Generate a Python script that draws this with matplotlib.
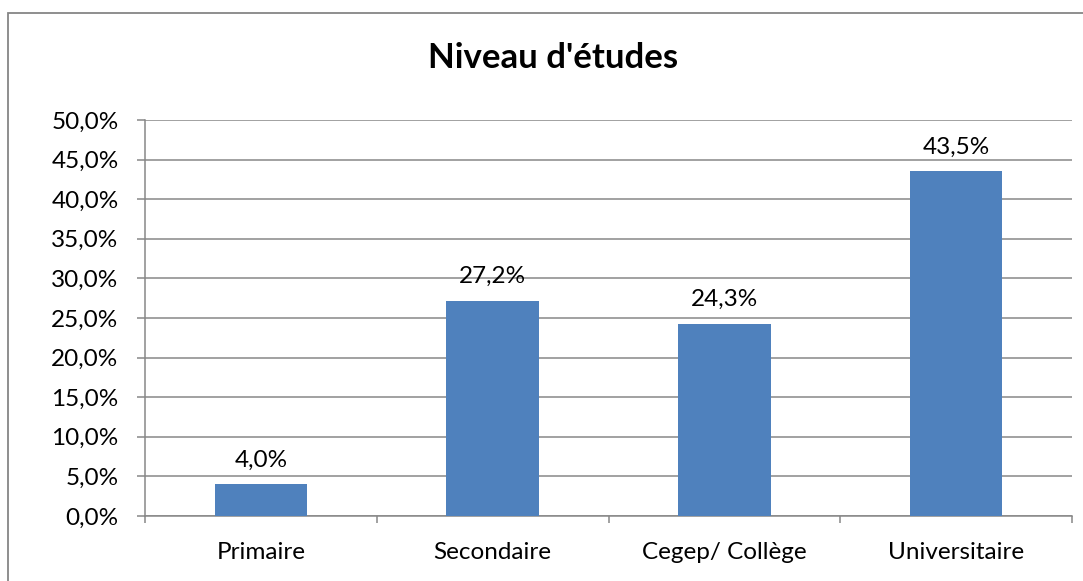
import matplotlib
matplotlib.use("Agg")
import matplotlib.pyplot as plt
from matplotlib.patches import Rectangle
import numpy as np

categories = ["Primaire", "Secondaire", "Cegep/ Collège", "Universitaire"]
values = [4.0, 27.2, 24.3, 43.5]
title = "Niveau d'études"

W, H = 1083, 581
fig = plt.figure(figsize=(W / 100, H / 100), dpi=100)
plt.rcParams['font.family'] = ['Lato', 'DejaVu Sans']

# outer chart border
fig.patches.append(Rectangle((8 / W, -0.05), 1.2, 1 - 13 / H + 0.05, transform=fig.transFigure,
                             fill=False, edgecolor='#868686', linewidth=1.3))

L, R, T, B = 145, 1072, 120, 516
ax = fig.add_axes([L / W, 1 - B / H, (R - L) / W, (B - T) / H])

x = np.arange(len(categories))
ax.bar(x, values, width=0.4, color='#4F81BD', zorder=3)
ax.set_xlim(-0.5, len(categories) - 0.5)
ax.set_ylim(0, 50)

yt = np.arange(0, 50.1, 5)
ax.set_yticks(yt)
ax.set_yticklabels([f"{v:.1f}%".replace('.', ',') for v in yt], fontsize=17.5)
ax.grid(axis='y', color='#878787', linewidth=1.1, zorder=0)
ax.tick_params(axis='y', length=6, width=1.1, color='#878787', pad=13)

ax.set_xticks(x)
ax.set_xticklabels(categories, fontsize=17.5)
ax.set_xticks(np.arange(-0.5, len(categories), 1), minor=True)
ax.tick_params(axis='x', which='major', length=0, pad=19)
ax.tick_params(axis='x', which='minor', length=5, width=1.1, color='#878787')

for s in ['top', 'right']:
    ax.spines[s].set_visible(False)
for s in ['left', 'bottom']:
    ax.spines[s].set_color('#878787')
    ax.spines[s].set_linewidth(1.1)

for xi, v in zip(x, values):
    ax.annotate(f"{v:.1f}%".replace('.', ','), (xi, v), xytext=(0, 10), textcoords='offset points',
                ha='center', va='bottom', fontsize=17.5)

fig.text(553 / W, 1 - 58 / H, title, ha='center', va='center',
         fontsize=25, fontweight='bold')

fig.savefig("out.png", dpi=100)
